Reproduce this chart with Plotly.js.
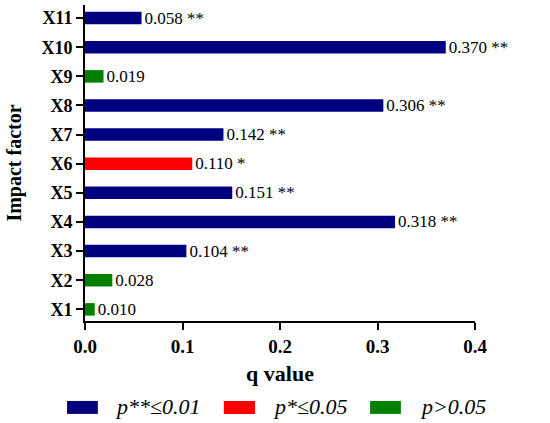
<!DOCTYPE html>
<html>
<head>
<meta charset="utf-8">
<script src="https://cdn.plot.ly/plotly-3.0.1.min.js"></script>
<style>html,body{margin:0;padding:0;background:#fff;}#chart{width:550px;height:423px;}</style>
</head>
<body>
<div id="chart"></div>
<script>
const factors = ["X1","X2","X3","X4","X5","X6","X7","X8","X9","X10","X11"];
const qValues = [0.010,0.028,0.104,0.318,0.151,0.110,0.142,0.306,0.019,0.370,0.058];
const stars   = ["","","**","**","**","*","**","**","","**","**"];
const groupOf = ["ns","ns","p01","p01","p01","p05","p01","p01","ns","p01","p01"];
const groupKeys = ["p01","p05","ns"];
const groupNames = ["p**≤0.01","p*≤0.05","p>0.05"];
const groupColors = {p01:"#000080", p05:"#ff0000", ns:"#008000"};

const serif = "'Liberation Serif', 'DejaVu Serif', serif";

const traces = groupKeys.map(g => {
  const idx = factors.map((_, i) => i).filter(i => groupOf[i] === g);
  return {
    type: "bar",
    orientation: "h",
    name: g,
    y: idx.map(i => factors[i]),
    x: idx.map(i => qValues[i]),
    text: idx.map(i => qValues[i].toFixed(3) + (stars[i] ? " " + stars[i] : "")),
    textposition: "outside",
    constraintext: "none",
    cliponaxis: false,
    textfont: {family: serif, size: 17, color: "#000"},
    marker: {color: groupColors[g]},
    width: 0.43,
    showlegend: false,
    hoverinfo: "none"
  };
});

// legend drawn in paper coordinates
const legX = [[-0.046, 0.033, 0.072], [0.356, 0.436, 0.477], [0.731, 0.810, 0.854]];
const shapes = [];
const annotations = [];
groupKeys.forEach((g, k) => {
  shapes.push({type:"rect", xref:"paper", yref:"paper", x0:legX[k][0], x1:legX[k][1],
    y0:-0.294, y1:-0.253, fillcolor:groupColors[g], line:{width:0}});
  annotations.push({xref:"paper", yref:"paper", x:legX[k][2], y:-0.272,
    xanchor:"left", yanchor:"middle", showarrow:false, text:"<i>" + groupNames[k] + "</i>",
    font:{family:serif, size:22, color:"#000"}});
});

const layout = {
  width: 550, height: 423,
  margin: {l: 85, r: 75, t: 5, b: 102},
  paper_bgcolor: "#fff", plot_bgcolor: "#fff",
  barmode: "overlay",
  showlegend: false,
  font: {family: serif, color: "#000"},
  xaxis: {
    range: [0, 0.4], tickvals: [0, 0.1, 0.2, 0.3, 0.4], ticktext: ["0.0","0.1","0.2","0.3","0.4"],
    showgrid: false, zeroline: false, showline: true, linecolor: "#000", linewidth: 2,
    ticks: "outside", ticklen: 7, tickwidth: 2, tickcolor: "#000",
    tickfont: {family: serif, size: 19, color: "#000", weight: "bold"},
    title: {text: "<b>q value</b>", font: {family: serif, size: 22, color: "#000"}, standoff: 10}
  },
  yaxis: {
    type: "category", categoryorder: "array", categoryarray: factors,
    range: [-0.4, 10.45],
    showgrid: false, zeroline: false, showline: true, linecolor: "#000", linewidth: 2,
    ticks: "outside", ticklen: 7, tickwidth: 2, tickcolor: "#000",
    tickfont: {family: serif, size: 18, color: "#000", weight: "bold"},
    title: {text: "<b>Impact factor</b>", font: {family: serif, size: 20, color: "#000"}, standoff: 14}
  },
  shapes: shapes,
  annotations: annotations
};

Plotly.newPlot("chart", traces, layout, {displayModeBar: false, staticPlot: true});
</script>
</body>
</html>
